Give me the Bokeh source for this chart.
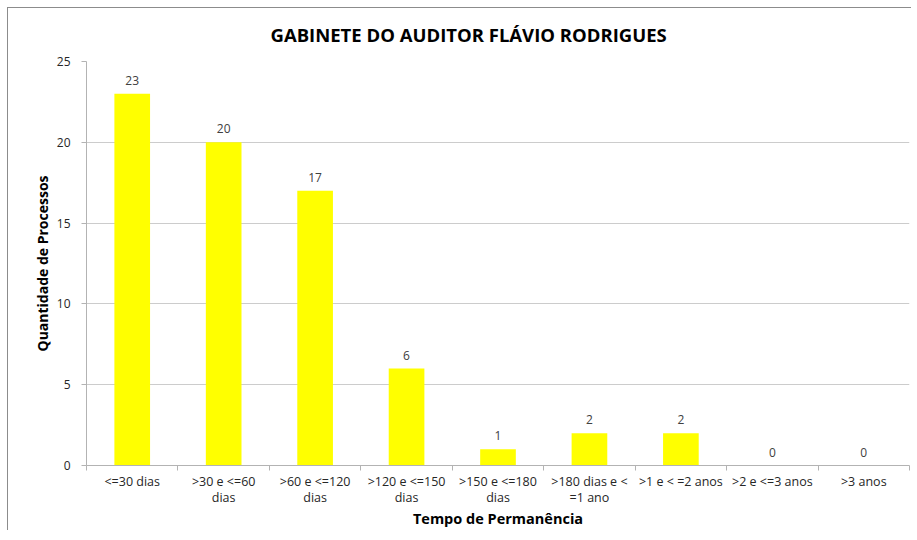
from bokeh.plotting import figure
from bokeh.models import ColumnDataSource, FixedTicker, Range1d, LabelSet, Title
from bokeh.core.properties import value
from bokeh.embed import file_html
from bokeh.resources import INLINE

categories = ["<=30 dias", ">30 e <=60\ndias", ">60 e <=120\ndias", ">120 e <=150\ndias",
              ">150 e <=180\ndias", ">180 dias e <\n=1 ano", ">1 e < =2 anos",
              ">2 e <=3 anos", ">3 anos"]
values = [23, 20, 17, 6, 1, 2, 2, 0, 0]
y_ticks = [0, 5, 10, 15, 20, 25]
title_text = "GABINETE DO AUDITOR FLÁVIO RODRIGUES"
x_title = "Tempo de Permanência"
y_title = "Quantidade de Processos"

FONT = "Open Sans"
n = len(categories)
centers = [i + 0.5 for i in range(n)]
bounds = [i for i in range(n + 1)]

src = ColumnDataSource(dict(x=centers, top=values, lab=[str(v) for v in values]))

p = figure(frame_width=823, frame_height=404, x_range=Range1d(0, n), y_range=Range1d(0, 25),
           output_backend="svg", toolbar_location=None,
           min_border_left=78, min_border_right=2, min_border_top=52, min_border_bottom=60)
p.styles = {"border-left": "1px solid #8c8c8c", "border-top": "1px solid #8c8c8c",
            "margin-left": "7px", "margin-top": "7px"}
p.outline_line_color = None
p.background_fill_color = "white"
p.border_fill_color = "white"

t = Title(text=title_text, align="left", offset=184, text_font=FONT,
          text_font_size="18.5px", text_font_style="bold", text_color="#000000",
          standoff=26, vertical_align="top")
p.add_layout(t, "above")

p.vbar(x="x", top="top", width=0.39, source=src, fill_color="#ffff00", line_color=None)

p.add_layout(LabelSet(x="x", y="top", text="lab", source=src, y_offset=9,
                      text_align="center", text_baseline="bottom",
                      text_font=value(FONT), text_font_size="12px", text_color="#404040"))

# x axis
xa = p.xaxis[0]
xa.ticker = FixedTicker(ticks=centers, minor_ticks=bounds)
xa.major_label_overrides = {c: lab for c, lab in zip(centers, categories)}
xa.major_tick_out = 0
xa.major_tick_in = 0
xa.minor_tick_out = 5
xa.minor_tick_in = 0
xa.minor_tick_line_color = "#b3b3b3"
xa.axis_line_color = "#b3b3b3"
xa.major_label_standoff = 2
xa.major_label_text_font = FONT
xa.major_label_text_font_size = "12.5px"
xa.major_label_text_line_height = 0.95
xa.major_label_text_color = "#262626"
xa.axis_label = x_title
xa.axis_label_text_font = FONT
xa.axis_label_text_font_size = "14.5px"
xa.axis_label_text_font_style = "bold"
xa.axis_label_text_color = "#000000"
xa.axis_label_standoff = 0

# y axis
ya = p.yaxis[0]
ya.ticker = FixedTicker(ticks=y_ticks)
ya.major_tick_out = 5
ya.major_tick_in = 0
ya.minor_tick_line_color = None
ya.major_tick_line_color = "#b3b3b3"
ya.axis_line_color = "#b3b3b3"
ya.major_label_standoff = 11
ya.major_label_text_font = FONT
ya.major_label_text_font_size = "12px"
ya.major_label_text_color = "#262626"
ya.axis_label = y_title
ya.axis_label_text_font = FONT
ya.axis_label_text_font_size = "14px"
ya.axis_label_text_font_style = "bold"
ya.axis_label_text_color = "#000000"
ya.axis_label_standoff = 2

p.xgrid.grid_line_color = None
p.ygrid.ticker = FixedTicker(ticks=y_ticks)
p.ygrid.grid_line_color = "#cccccc"

open("out.html", "w").write(file_html(p, INLINE))
